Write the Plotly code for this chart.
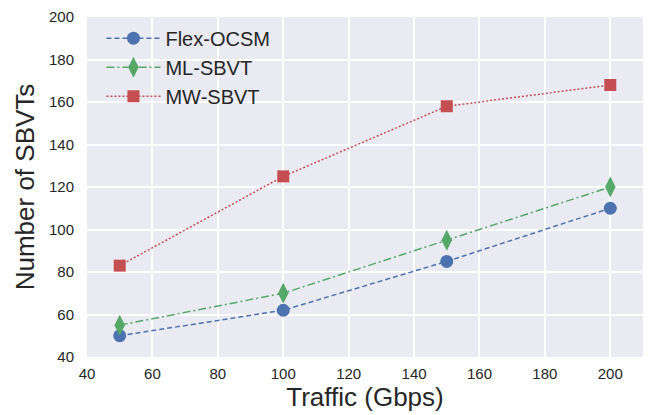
import plotly.graph_objects as go

traffic = [50, 100, 150, 200]
flex_ocsm = [50, 62, 85, 110]
ml_sbvt = [55, 70, 95, 120]
mw_sbvt = [83, 125, 158, 168]

x_ticks = [40, 60, 80, 100, 120, 140, 160, 180, 200]
y_ticks = [40, 60, 80, 100, 120, 140, 160, 180, 200]

FONT = "Liberation Sans, Arial, sans-serif"

fig = go.Figure()
fig.add_trace(go.Scatter(x=traffic, y=flex_ocsm, name="Flex-OCSM", mode="lines+markers",
                         line=dict(color="#4C72B0", width=1.5, dash="5px,3px"),
                         marker=dict(symbol="circle", size=13, color="#4C72B0")))
fig.add_trace(go.Scatter(x=traffic, y=ml_sbvt, name="ML-SBVT", mode="lines+markers",
                         line=dict(color="#55A868", width=1.5, dash="8px,3px,2px,3px"),
                         marker=dict(symbol="diamond-tall", size=15, color="#55A868")))
fig.add_trace(go.Scatter(x=traffic, y=mw_sbvt, name="MW-SBVT", mode="lines+markers",
                         line=dict(color="#C44E52", width=1.5, dash="2px,2px"),
                         marker=dict(symbol="square", size=12, color="#C44E52")))

fig.update_layout(
    width=651, height=415,
    margin=dict(l=87, r=8, t=15, b=58),
    paper_bgcolor="white", plot_bgcolor="#EAEAF2",
    font=dict(family=FONT, color="#262626"),
    showlegend=True,
    legend=dict(x=0.026, y=0.995, xanchor="left", yanchor="top",
                bgcolor="rgba(0,0,0,0)", font=dict(size=20, family=FONT, color="#262626"),
                itemwidth=54, tracegroupgap=0),
)
fig.update_xaxes(range=[40, 210], tickvals=x_ticks, showgrid=True, gridcolor="white", gridwidth=1.5,
                 zeroline=False, showline=False, ticks="", tickfont=dict(size=15),
                 ticklabelstandoff=6,
                 title=dict(text="Traffic (Gbps)", font=dict(size=26), standoff=3))
fig.update_yaxes(range=[40, 200], tickvals=y_ticks, showgrid=True, gridcolor="white", gridwidth=1.5,
                 zeroline=False, showline=False, ticks="", tickfont=dict(size=15),
                 ticklabelstandoff=12,
                 title=dict(text="Number of SBVTs", font=dict(size=26), standoff=6))

fig.write_html("out.html", config={"displayModeBar": False},
               post_script="document.body.style.margin='0';document.body.style.overflow='hidden';")
